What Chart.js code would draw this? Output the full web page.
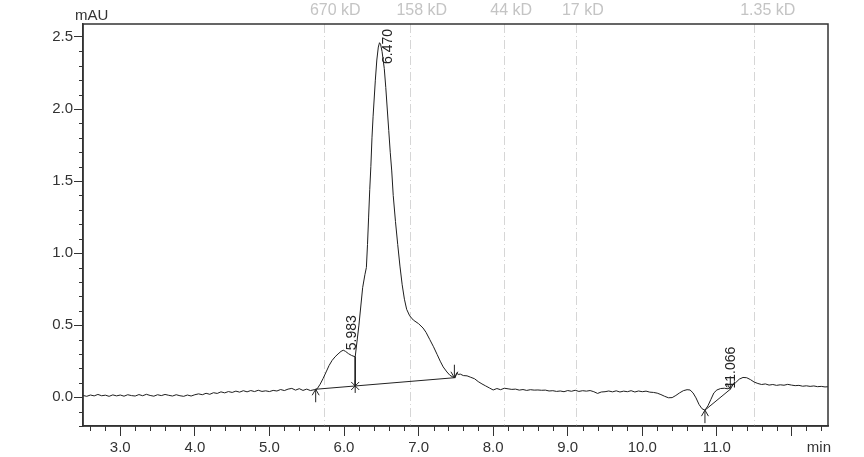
<!DOCTYPE html>
<html>
<head>
<meta charset="utf-8">
<script src="https://cdn.jsdelivr.net/npm/chart.js@4"></script>
<style>
  body { margin: 0; background: #fff; }
</style>
</head>
<body>
<canvas id="chrom" width="864" height="457"></canvas>
<script>
// === Data ===
const rtMin = [
  2.50, 2.55, 2.60, 2.65, 2.70, 2.75, 2.80, 2.85, 2.90, 2.95,
  3.00, 3.05, 3.10, 3.15, 3.20, 3.25, 3.30, 3.35, 3.40, 3.45,
  3.50, 3.55, 3.60, 3.65, 3.70, 3.75, 3.80, 3.85, 3.90, 3.95,
  4.00, 4.05, 4.10, 4.15, 4.20, 4.25, 4.30, 4.35, 4.40, 4.45,
  4.50, 4.55, 4.60, 4.65, 4.70, 4.75, 4.80, 4.85, 4.90, 4.95,
  5.00, 5.05, 5.10, 5.15, 5.20, 5.25, 5.30, 5.35, 5.40, 5.45,
  5.50, 5.55, 5.60, 5.64, 5.68, 5.72, 5.76, 5.80, 5.84, 5.88,
  5.92, 5.96, 5.99, 6.02, 6.06, 6.10, 6.15, 6.20, 6.25, 6.28,
  6.30, 6.315, 6.33, 6.345, 6.36, 6.375, 6.39, 6.42, 6.44, 6.46,
  6.476, 6.49, 6.51, 6.54, 6.56, 6.58, 6.60, 6.62, 6.64, 6.66,
  6.69, 6.72, 6.75, 6.78, 6.81, 6.84, 6.88, 6.93, 7.00, 7.06,
  7.10, 7.15, 7.20, 7.25, 7.29, 7.33, 7.38, 7.42, 7.46, 7.49,
  7.51, 7.53, 7.56, 7.60, 7.65, 7.70, 7.75, 7.80, 7.85, 7.90,
  7.95, 8.00, 8.05, 8.10, 8.15, 8.20, 8.25, 8.30, 8.35, 8.40,
  8.45, 8.50, 8.55, 8.60, 8.65, 8.70, 8.75, 8.80, 8.85, 8.90,
  8.95, 9.00, 9.05, 9.10, 9.15, 9.20, 9.25, 9.30, 9.35, 9.40,
  9.45, 9.50, 9.55, 9.60, 9.65, 9.70, 9.75, 9.80, 9.85, 9.90,
  9.95, 10.00, 10.05, 10.10, 10.15, 10.20, 10.25, 10.30, 10.35, 10.40,
  10.45, 10.50, 10.55, 10.60, 10.64, 10.68, 10.72, 10.76, 10.80, 10.84,
  10.88, 10.92, 10.96, 11.00, 11.05, 11.10, 11.15, 11.20, 11.25, 11.30,
  11.35, 11.40, 11.45, 11.50, 11.55, 11.60, 11.65, 11.70, 11.75, 11.80,
  11.85, 11.90, 11.95, 12.00, 12.05, 12.10, 12.15, 12.20, 12.25, 12.30,
  12.35, 12.40, 12.45, 12.50
];
const signalMAU = [
  0.012, 0.006, 0.015, 0.009, 0.019, 0.010, 0.014, 0.006, 0.016, 0.009,
  0.015, 0.007, 0.017, 0.011, 0.008, 0.018, 0.010, 0.020, 0.012, 0.007,
  0.017, 0.011, 0.019, 0.013, 0.008, 0.017, 0.010, 0.006, 0.015, 0.008,
  0.017, 0.023, 0.017, 0.027, 0.020, 0.031, 0.026, 0.037, 0.030, 0.039,
  0.033, 0.042, 0.035, 0.045, 0.037, 0.046, 0.039, 0.048, 0.040, 0.044,
  0.039, 0.047, 0.043, 0.053, 0.046, 0.056, 0.061, 0.049, 0.059, 0.047,
  0.056, 0.046, 0.052, 0.058, 0.090, 0.130, 0.175, 0.220, 0.255, 0.280,
  0.300, 0.318, 0.326, 0.318, 0.302, 0.290, 0.280, 0.500, 0.760, 0.850,
  0.900, 1.060, 1.250, 1.440, 1.600, 1.800, 1.950, 2.200, 2.340, 2.430,
  2.460, 2.450, 2.400, 2.280, 2.150, 2.000, 1.850, 1.700, 1.570, 1.400,
  1.220, 1.060, 0.910, 0.780, 0.680, 0.610, 0.565, 0.535, 0.510, 0.480,
  0.450, 0.400, 0.350, 0.295, 0.250, 0.210, 0.175, 0.152, 0.140, 0.134,
  0.168, 0.158, 0.160, 0.150, 0.148, 0.138, 0.128, 0.108, 0.092, 0.078,
  0.064, 0.050, 0.060, 0.052, 0.062, 0.058, 0.054, 0.056, 0.049, 0.053,
  0.047, 0.052, 0.049, 0.050, 0.048, 0.049, 0.043, 0.045, 0.040, 0.043,
  0.038, 0.046, 0.041, 0.048, 0.040, 0.045, 0.042, 0.046, 0.038, 0.026,
  0.036, 0.038, 0.043, 0.037, 0.044, 0.036, 0.042, 0.038, 0.045, 0.036,
  0.043, 0.038, 0.042, 0.035, 0.033, 0.028, 0.018, 0.006, -0.004, -0.003,
  0.012, 0.030, 0.045, 0.052, 0.050, 0.030, -0.005, -0.050, -0.080, -0.090,
  -0.060, -0.015, 0.030, 0.050, 0.060, 0.062, 0.058, 0.080, 0.100, 0.125,
  0.137, 0.135, 0.122, 0.105, 0.095, 0.088, 0.092, 0.084, 0.088, 0.082,
  0.086, 0.083, 0.089, 0.084, 0.080, 0.082, 0.076, 0.079, 0.075, 0.078,
  0.073, 0.075, 0.071, 0.073
];

// integration baselines (start rt, start value, end rt, end value)
const baseStartRt = [5.62, 10.84];
const baseStartVal = [0.055, -0.09];
const baseEndRt = [7.48, 11.18];
const baseEndVal = [0.135, 0.055];

// drop line between the shoulder and the main peak
const dropRt = 6.15;
const dropTop = 0.28;
const dropBottom = 0.078;

// integration event marks
const markRt = [5.62, 6.15, 7.48, 10.84, 11.18];
const markVal = [0.055, 0.078, 0.135, -0.09, 0.055];
const markKind = ["up", "star", "down", "up", "down"];

// peak retention time labels
const peakRt = [5.983, 6.470, 11.066];
const peakVal = [0.326, 2.46, 0.06];
const peakLabels = ["5.983", "6.470", "11.066"];

// molecular weight standards
const mwRt = [5.73, 6.89, 8.15, 9.11, 11.50];
const mwLabels = ["670 kD", "158 kD", "44 kD", "17 kD", "1.35 kD"];

const FONT = "'Liberation Sans', Arial, sans-serif";
const INK = "#333";

function isMajor(v, step) {
  const r = v / step;
  return Math.abs(r - Math.round(r)) < 1e-6;
}

// === Plugins ===
const mwLines = {
  id: "mwLines",
  beforeDatasetsDraw(chart) {
    const { ctx, chartArea, scales } = chart;
    ctx.save();
    ctx.strokeStyle = "#d6d6d6";
    ctx.lineWidth = 1;
    ctx.setLineDash([9, 3, 1, 3]);
    mwRt.forEach((rt) => {
      const x = Math.round(scales.x.getPixelForValue(rt)) + 0.5;
      ctx.beginPath();
      ctx.moveTo(x, chartArea.top);
      ctx.lineTo(x, chartArea.bottom);
      ctx.stroke();
    });
    ctx.setLineDash([]);
    ctx.fillStyle = "#c4c4c4";
    ctx.font = "16px " + FONT;
    ctx.textAlign = "left";
    ctx.textBaseline = "middle";
    mwRt.forEach((rt, i) => {
      const x = scales.x.getPixelForValue(rt);
      ctx.fillText(mwLabels[i], x - 14, 11);
    });
    ctx.restore();
  },
};

const frameAndText = {
  id: "frameAndText",
  afterDraw(chart) {
    const { ctx, chartArea, scales } = chart;
    ctx.save();
    // box round the plot
    ctx.strokeStyle = INK;
    ctx.lineWidth = 1.5;
    ctx.strokeRect(chartArea.left, chartArea.top,
      chartArea.right - chartArea.left, chartArea.bottom - chartArea.top);

    // minor ticks
    ctx.lineWidth = 1;
    ctx.beginPath();
    scales.y.ticks.forEach((t) => {
      if (isMajor(t.value, 0.5)) return;
      const y = Math.round(scales.y.getPixelForValue(t.value)) + 0.5;
      ctx.moveTo(chartArea.left - 4, y);
      ctx.lineTo(chartArea.left, y);
    });
    scales.x.ticks.forEach((t) => {
      if (isMajor(t.value, 1)) return;
      const x = Math.round(scales.x.getPixelForValue(t.value)) + 0.5;
      ctx.moveTo(x, chartArea.bottom);
      ctx.lineTo(x, chartArea.bottom + 5);
    });
    ctx.stroke();

    // axis units
    ctx.fillStyle = INK;
    ctx.font = "15px " + FONT;
    ctx.textBaseline = "middle";
    ctx.textAlign = "left";
    ctx.fillText("mAU", 75, 16);
    ctx.textAlign = "right";
    ctx.fillText("min", chartArea.right + 3, 448);

    // integration marks
    ctx.strokeStyle = "#222";
    ctx.lineWidth = 1;
    markRt.forEach((rt, i) => {
      const x = scales.x.getPixelForValue(rt);
      const y = scales.y.getPixelForValue(markVal[i]);
      ctx.beginPath();
      if (markKind[i] === "up") {
        ctx.moveTo(x, y);
        ctx.lineTo(x, y + 13);
        ctx.moveTo(x - 3.5, y + 6);
        ctx.lineTo(x, y);
        ctx.lineTo(x + 3.5, y + 6);
      } else if (markKind[i] === "down") {
        ctx.moveTo(x, y);
        ctx.lineTo(x, y - 13);
        ctx.moveTo(x - 3.5, y - 6);
        ctx.lineTo(x, y);
        ctx.lineTo(x + 3.5, y - 6);
      } else {
        ctx.moveTo(x - 4, y - 4);
        ctx.lineTo(x + 4, y + 4);
        ctx.moveTo(x + 4, y - 4);
        ctx.lineTo(x - 4, y + 4);
        ctx.moveTo(x, y - 6);
        ctx.lineTo(x, y + 7);
      }
      ctx.stroke();
    });

    // peak labels, rotated
    ctx.fillStyle = "#222";
    ctx.font = "14px " + FONT;
    ctx.textAlign = "left";
    ctx.textBaseline = "middle";
    peakRt.forEach((rt, i) => {
      const x = scales.x.getPixelForValue(rt) + 9.5;
      let y = scales.y.getPixelForValue(peakVal[i]);
      const w = ctx.measureText(peakLabels[i]).width;
      y = Math.max(y, chartArea.top + 5 + w);
      ctx.save();
      ctx.translate(x, y);
      ctx.rotate(-Math.PI / 2);
      ctx.fillText(peakLabels[i], 0, 0);
      ctx.restore();
    });
    ctx.restore();
  },
};

// === Chart ===
const trace = rtMin.map((t, i) => ({ x: t, y: signalMAU[i] }));
const baselineSets = baseStartRt.map((rt, i) => ({
  data: [
    { x: rt, y: baseStartVal[i] },
    { x: baseEndRt[i], y: baseEndVal[i] },
  ],
  borderColor: "#222",
  borderWidth: 1,
  pointRadius: 0,
}));

const ctx = document.getElementById("chrom").getContext("2d");
new Chart(ctx, {
  type: "line",
  data: {
    datasets: [
      {
        data: trace,
        borderColor: "#1e1e1e",
        borderWidth: 1,
        pointRadius: 0,
        tension: 0,
      },
      ...baselineSets,
      {
        data: [
          { x: dropRt, y: dropTop },
          { x: dropRt, y: dropBottom },
        ],
        borderColor: "#222",
        borderWidth: 1,
        pointRadius: 0,
      },
    ],
  },
  options: {
    responsive: false,
    animation: false,
    events: [],
    layout: { padding: { top: 24, right: 36, left: 0, bottom: 0 } },
    plugins: { legend: { display: false }, tooltip: { enabled: false } },
    scales: {
      x: {
        type: "linear",
        min: 2.5,
        max: 12.49,
        afterFit: (s) => { s.height = 31; },
        border: { display: true, color: INK, width: 1.5 },
        grid: {
          drawOnChartArea: false,
          drawTicks: true,
          tickLength: 10,
          tickColor: (c) => (c.tick && isMajor(c.tick.value, 1) ? INK : "rgba(0,0,0,0)"),
        },
        ticks: {
          stepSize: 0.2,
          includeBounds: false,
          autoSkip: false,
          maxRotation: 0,
          padding: 3,
          color: INK,
          font: { family: FONT, size: 15 },
          callback: (v) => (isMajor(v, 1) && Math.round(v) !== 12 ? v.toFixed(1) : ""),
        },
      },
      y: {
        min: -0.2,
        max: 2.59,
        afterFit: (s) => { s.width = 83; },
        border: { display: true, color: INK, width: 1.5 },
        grid: {
          drawOnChartArea: false,
          drawTicks: true,
          tickLength: 9,
          tickColor: (c) => (c.tick && isMajor(c.tick.value, 0.5) ? INK : "rgba(0,0,0,0)"),
        },
        ticks: {
          stepSize: 0.1,
          includeBounds: false,
          autoSkip: false,
          padding: 1,
          color: INK,
          font: { family: FONT, size: 15 },
          callback: (v) => (isMajor(v, 0.5) ? v.toFixed(1) : ""),
        },
      },
    },
  },
  plugins: [mwLines, frameAndText],
});
</script>
</body>
</html>
